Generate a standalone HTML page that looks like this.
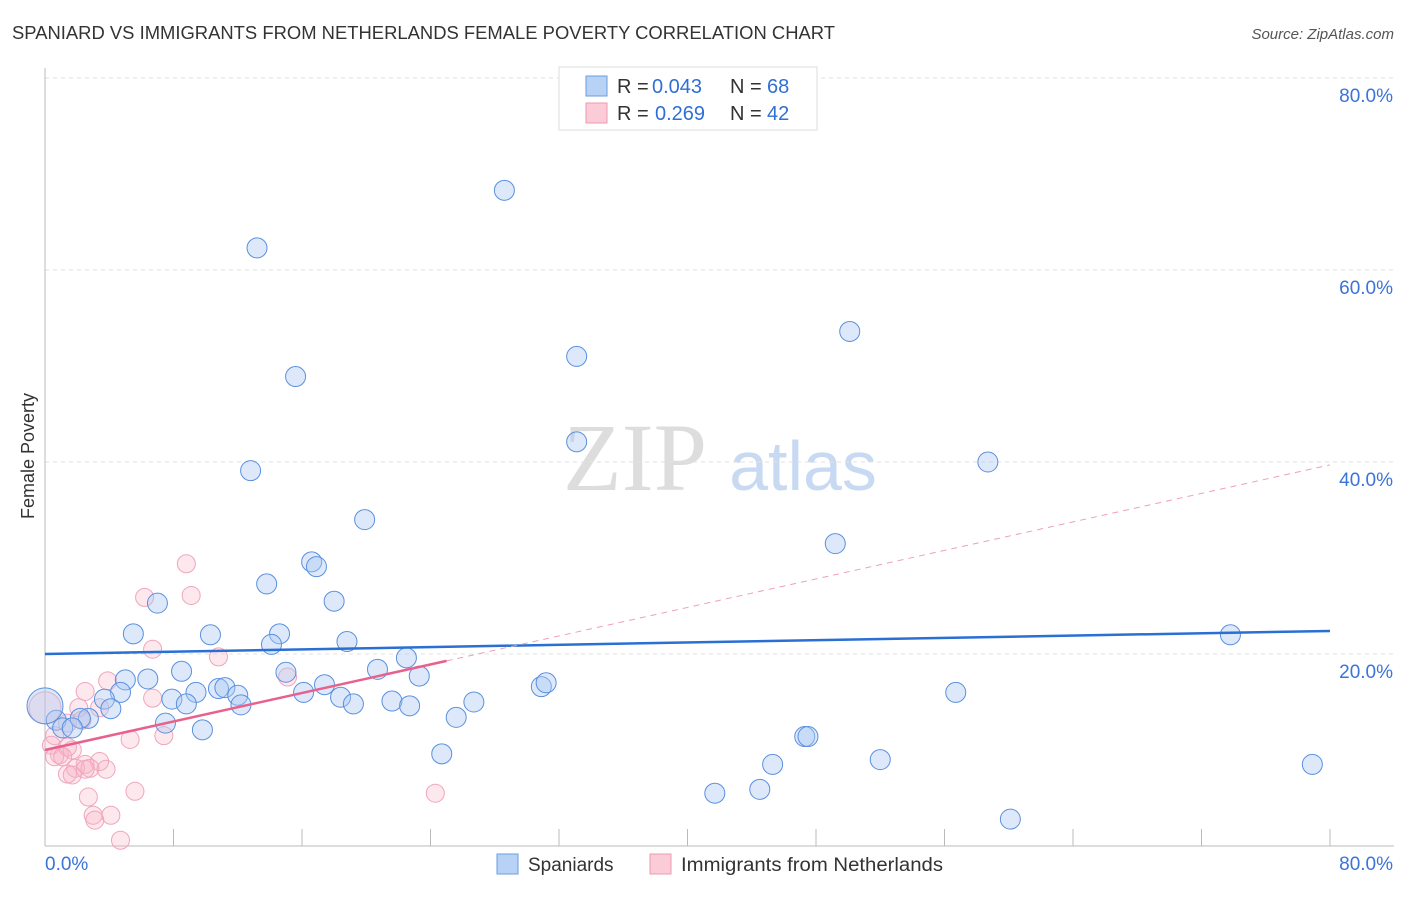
<!DOCTYPE html>
<html><head><meta charset="utf-8"><style>
body{margin:0;background:#fff;font-family:"Liberation Sans",sans-serif}
</style></head><body>
<svg id="chart" width="1406" height="892" xmlns="http://www.w3.org/2000/svg" font-family="Liberation Sans, sans-serif">
<text x="12" y="39" font-size="18" fill="#333" textLength="823" lengthAdjust="spacingAndGlyphs">SPANIARD VS IMMIGRANTS FROM NETHERLANDS FEMALE POVERTY CORRELATION CHART</text>
<text x="1394" y="39" font-size="15" fill="#555" font-style="italic" text-anchor="end">Source: ZipAtlas.com</text>
<text transform="translate(34,456) rotate(-90)" font-size="18" fill="#333" text-anchor="middle">Female Poverty</text>
<g><text x="635" y="490" font-size="96" fill="#ddd" font-family="Liberation Serif, serif" text-anchor="middle">ZIP</text><text x="803" y="490" font-size="70" fill="#c8daf2" text-anchor="middle">atlas</text></g>
<g id="grid"></g><g id="axes"></g><g id="pts"></g><g id="lines"></g>
<g>
<rect x="559" y="67" width="258" height="63" fill="#fff" stroke="#ddd"/>
<rect x="586" y="76" width="21" height="20" fill="#b8d2f5" stroke="#6a9ee0"/>
<rect x="586" y="103" width="21" height="20" fill="#fbcbd8" stroke="#ee9ab2"/>
<text x="617" y="93" font-size="20" fill="#333">R =</text><text x="652" y="93" font-size="20" fill="#2f6fd6">0.043</text>
<text x="730" y="93" font-size="20" fill="#333">N =</text><text x="767" y="93" font-size="20" fill="#2f6fd6">68</text>
<text x="617" y="120" font-size="20" fill="#333">R =</text><text x="655" y="120" font-size="20" fill="#2f6fd6">0.269</text>
<text x="730" y="120" font-size="20" fill="#333">N =</text><text x="767" y="120" font-size="20" fill="#2f6fd6">42</text>
</g>
<g>
<rect x="497" y="854" width="21" height="20" fill="#b8d2f5" stroke="#6a9ee0"/>
<text x="528" y="871" font-size="19" fill="#333">Spaniards</text>
<rect x="650" y="854" width="21" height="20" fill="#fbcbd8" stroke="#ee9ab2"/>
<text x="681" y="871" font-size="19" fill="#333" textLength="262" lengthAdjust="spacingAndGlyphs">Immigrants from Netherlands</text>
</g>
</svg>
<script>
const blueX=[28.6,13.2,15.6,33.1,50.1,33.1,58.7,12.8,19.9,49.2,16.6,16.9,13.8,7.0,18.0,5.5,10.3,14.6,14.1,18.8,73.8,22.5,8.5,15.0,20.7,23.3,6.4,5.0,4.7,3.7,7.9,9.4,10.8,11.2,12.0,12.2,8.8,16.1,17.4,18.4,19.2,21.6,22.7,26.7,30.9,31.2,56.7,4.1,2.7,0.7,2.2,1.1,1.7,7.5,9.8,25.6,24.7,47.3,47.5,45.3,52.0,78.9,41.7,44.5,60.1,0.0];
const blueY=[68.3,62.3,48.9,51.0,53.6,42.1,40.0,39.1,34.0,31.5,29.6,29.1,27.3,25.3,25.5,22.1,22.0,22.1,21.0,21.3,22.0,19.6,18.2,18.1,18.4,17.7,17.4,17.3,16.0,15.3,15.3,16.0,16.4,16.5,15.7,14.7,14.8,16.0,16.8,15.5,14.8,15.1,14.6,15.0,16.6,17.0,16.0,14.3,13.3,13.1,13.3,12.3,12.3,12.8,12.1,13.4,9.6,11.4,11.4,8.5,9.0,8.5,5.5,5.9,2.8,14.6];
const blueR=Array(65).fill(10).concat([18]);
const pinkX=[8.8,6.2,9.1,6.7,10.8,3.9,2.5,6.7,3.4,2.1,15.1,1.4,2.3,0.6,5.3,7.4,0.4,0.9,1.7,1.4,0.6,1.1,2.5,3.4,1.9,2.8,3.8,1.4,1.7,2.5,5.6,2.7,24.3,3.0,3.1,4.1,4.7,0.0];
const pinkY=[29.4,25.9,26.1,20.5,19.7,17.2,16.1,15.4,14.4,14.4,17.6,12.8,13.1,11.5,11.1,11.5,10.5,9.5,10.0,10.3,9.3,9.3,8.5,8.8,8.1,8.1,8.0,7.5,7.4,8.0,5.7,5.1,5.5,3.2,2.7,3.2,0.6,14.4];
const pinkR=Array(37).fill(9).concat([16]);
const yTicks=[20,40,60,80];
const blueTrend=[20.0,22.4];
const pinkTrend=[10.0,39.7];
const X0=45,X1=1330,Y0=846,PPY=9.6;
const sx=v=>X0+(v/80)*(X1-X0), sy=v=>Y0-v*PPY;
const NS="http://www.w3.org/2000/svg";
function mk(tag,attrs,parent){const e=document.createElementNS(NS,tag);for(const k in attrs)e.setAttribute(k,attrs[k]);document.getElementById(parent).appendChild(e);return e;}
yTicks.forEach(t=>{
 const g=mk('line',{x1:X0,x2:1394,y1:sy(t),y2:sy(t),stroke:'#e2e2e2','stroke-dasharray':'4,4'},'grid');
 
 
 const l=mk('text',{x:1393,y:sy(t)+24,'font-size':19,fill:'#3a74d8','text-anchor':'end'},'grid');
 l.textContent=t.toFixed(1)+'%';
 
 
});
const ax=mk('line',{x1:X0,x2:X0,y1:68,y2:846,stroke:'#bbb'},'axes');


const bx=mk('line',{x1:X0,x2:1394,y1:846,y2:846,stroke:'#bbb'},'axes');


for(let i=1;i<=10;i++){const t=mk('line',{x1:X0+i*128.5,x2:X0+i*128.5,y1:829,y2:846,stroke:'#bbb'},'axes');
 
 }
[[0,'start',45],[80,'end',1393]].forEach(([v,a,x])=>{const t=mk('text',{x:x,y:870,'font-size':19,fill:'#3a74d8','text-anchor':a},'axes');t.textContent=v.toFixed(1)+'%';
 
 });
pinkX.forEach((v,i)=>{const c=mk('circle',{cx:sx(v),cy:sy(pinkY[i]),r:pinkR[i],fill:'rgba(248,180,200,0.3)',stroke:'#f0a5bb','stroke-width':1},'pts');
 
 });
blueX.forEach((v,i)=>{const c=mk('circle',{cx:sx(v),cy:sy(blueY[i]),r:blueR[i],fill:'rgba(170,200,242,0.4)',stroke:'#5a90de','stroke-width':1},'pts');
 
 });
const bl=mk('line',{x1:sx(0),y1:sy(blueTrend[0]),x2:sx(80),y2:sy(blueTrend[1]),stroke:'#2a6fd4','stroke-width':2.5},'lines');


const pe=25; const pyAt=v=>pinkTrend[0]+(pinkTrend[1]-pinkTrend[0])*v/80;
const pl=mk('line',{x1:sx(0),y1:sy(pinkTrend[0]),x2:sx(pe),y2:sy(pyAt(pe)),stroke:'#e8618c','stroke-width':2.5},'lines');


const pd=mk('line',{x1:sx(pe),y1:sy(pyAt(pe)),x2:sx(80),y2:sy(pinkTrend[1]),stroke:'#eea0b6','stroke-width':1,'stroke-dasharray':'6,5'},'lines');


</script>
</body></html>
